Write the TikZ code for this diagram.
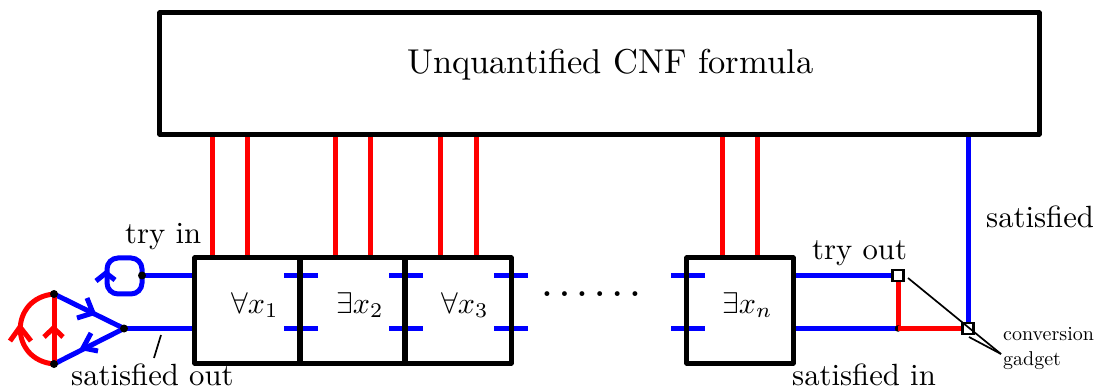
\documentclass[tikz,border=0pt]{standalone}
\newcommand{\lbl}[2]{\scalebox{#1}{#2}}
\tikzset{
  blk/.style={draw=black,line width=5pt,line join=round,line cap=round,inner sep=0pt},
  redl/.style={draw=red,line width=5pt},
  blul/.style={draw=blue,line width=5pt},
  thin1/.style={draw=black,line width=1.7pt},
  dot/.style={circle,fill=black,inner sep=0pt,minimum size=8pt},
  gadget/.style={draw=black,fill=white,line width=2.2pt,inner sep=0pt,minimum size=11pt},
  txt/.style={inner sep=0pt,anchor=base west}
}
\begin{document}
\begin{tikzpicture}[x=1pt,y=-1pt]
\useasboundingbox (0,0) rectangle (1101,390);
\coordinate (rt) at (54,294);
\coordinate (rb) at (54,364);
\coordinate (jl) at (124,328.5);
\coordinate (jt) at (142,275.5);
\coordinate (g0) at (898,328.5);
\coordinate (lc) at (1001,354);
\coordinate (la) at (908,278);
\coordinate (lb) at (969,337);
\node[gadget] (g1) at (898,275.5) {};
\node[gadget] (g2) at (968,328.5) {};
\node[minimum width=879pt,minimum height=121pt,inner sep=0pt] (main) at (599.5,73.5) {};
\node[minimum width=105pt,minimum height=105pt,inner sep=0pt] (b1) at (247.5,310.5) {};
\node[minimum width=105pt,minimum height=105pt,inner sep=0pt] (b2) at (352.5,310.5) {};
\node[minimum width=106pt,minimum height=105pt,inner sep=0pt] (b3) at (458,310.5) {};
\node[minimum width=106pt,minimum height=105pt,inner sep=0pt] (bn) at (740,310.5) {};
\foreach \n/\x in {a/212.5,b/247.5,c/335.5,d/370.5,e/440.5,f/476,g/722,h/757.5}{
  \coordinate (w\n) at (\x,258);
  \draw[redl] (main.south -| w\n) -- (w\n);
}
\foreach \x/\y in {284/275.5,284/328.5,389/275.5,389/328.5,494/275.5,494/328.5,671/275.5,671/328.5}{
  \coordinate (ta) at (\x,\y);
  \coordinate (tb) at (\x+34,\y);
  \draw[blul] (ta) -- (tb);
}
\coordinate (e1) at (195,275.5);
\coordinate (e2) at (195,328.5);
\draw[blul] (jt) -- (e1);
\draw[blul] (jl) -- (e2);
\draw[blul,rounded corners=11pt] (jt) -- (142,258) -- (107,258) -- (107,294) -- (142,294) -- (jt);
\draw[blul] (96,281) -- (106,273) -- (115,280);
\draw[blul] (rt) -- (jl);
\draw[blul] (jl) -- (rb);
\draw[blul] (77,318) -- (93,313) -- (87,298);
\draw[blul] (91,333) -- (83,348) -- (98,351);
\draw[redl] (rb) -- (rt);
\draw[redl] (rb) .. controls (9,360) and (9,298) .. (rt);
\draw[redl] (44,337) -- (53.5,328) -- (63,337);
\draw[redl] (10,341) -- (20,327) -- (31,341);
\coordinate (e3) at (793,275.5);
\coordinate (e4) at (793,328.5);
\draw[blul] (e3) -- (g1);
\draw[blul] (e4) -- (g0);
\draw[redl] (g1) -- (g0);
\draw[blul] (main.south -| g2) -- (g2);
\draw[blk] (main.north west) rectangle (main.south east);
\draw[blk] (b1.north west) rectangle (b1.south east);
\draw[blk] (b2.north west) rectangle (b2.south east);
\draw[blk] (b3.north west) rectangle (b3.south east);
\draw[blk] (bn.north west) rectangle (bn.south east);
\node[dot] at (rt) {};
\node[dot] at (rb) {};
\node[dot] at (jl) {};
\node[dot] at (jt) {};
\node[circle,fill=black,inner sep=0pt,minimum size=6.5pt] at (g0) {};
\draw[redl] (g0) -- (g2);
\node[gadget] at (g1) {};
\node[gadget] at (g2) {};
\draw[thin1] (la) -- (lc);
\draw[thin1] (lb) -- (lc);
\coordinate (sa) at (161,335);
\coordinate (sb) at (154,358);
\draw[thin1] (sa) -- (sb);
\node[txt] (t0) at (407,74) {\lbl{3.45}{Unquantified CNF formula}};
\node[txt] (t1) at (125,244) {\lbl{3.07}{try in}};
\node[txt] (t2) at (812,260) {\lbl{3.07}{try out}};
\node[txt] (t3) at (986,228) {\lbl{3.07}{satisfied}};
\node[txt] (t4) at (71,385) {\lbl{3.07}{satisfied out}};
\node[txt] (t5) at (792,385) {\lbl{3.07}{satisfied in}};
\node[txt] (t6) at (231,313) {\lbl{3.0}{$\forall x_1$}};
\node[txt] (t7) at (336,313) {\lbl{3.0}{$\exists x_2$}};
\node[txt] (t8) at (441,313) {\lbl{3.0}{$\forall x_3$}};
\node[txt] (t9) at (722,313) {\lbl{3.0}{$\exists x_n$}};
\node[txt] (t10) at (541.8,297) {\lbl{3.1}{\textbf{.\kern2.49pt.\kern2.49pt.\kern2.49pt.\kern2.49pt.\kern2.49pt.}}};
\node[txt] (t11) at (1003,341) {\lbl{2}{conversion}};
\node[txt] (t12) at (1003,365) {\lbl{2}{gadget}};
\end{tikzpicture}
\end{document}
